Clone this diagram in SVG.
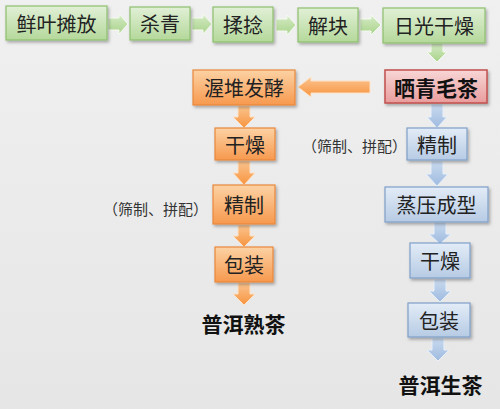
<svg xmlns="http://www.w3.org/2000/svg" width="500" height="409" viewBox="0 0 500 409">
<defs>
<linearGradient id="bg" x1="0" y1="0" x2="0" y2="1"><stop offset="0" stop-color="#f0f0f0"/><stop offset="1" stop-color="#e6e6e6"/></linearGradient>
<linearGradient id="gG" x1="0" y1="0" x2="0" y2="1"><stop offset="0" stop-color="#e1f0d6"/><stop offset="1" stop-color="#b4d89a"/></linearGradient>
<linearGradient id="gO" x1="0" y1="0" x2="0" y2="1"><stop offset="0" stop-color="#fcd2a4"/><stop offset="1" stop-color="#f7994e"/></linearGradient>
<linearGradient id="gB" x1="0" y1="0" x2="0" y2="1"><stop offset="0" stop-color="#e3ecf7"/><stop offset="1" stop-color="#b6cbe4"/></linearGradient>
<linearGradient id="gR" x1="0" y1="0" x2="0" y2="1"><stop offset="0" stop-color="#f8d6d6"/><stop offset="1" stop-color="#e99c9c"/></linearGradient>
<linearGradient id="aG" x1="0" y1="0" x2="0" y2="1"><stop offset="0" stop-color="#d5ebc5"/><stop offset="1" stop-color="#a9d38b"/></linearGradient>
<linearGradient id="aO" x1="0" y1="0" x2="0" y2="1"><stop offset="0" stop-color="#fbc48f"/><stop offset="1" stop-color="#f7943f"/></linearGradient>
<linearGradient id="aB" x1="0" y1="0" x2="0" y2="1"><stop offset="0" stop-color="#c9daee"/><stop offset="1" stop-color="#9fbbe0"/></linearGradient>
<filter id="sh" x="-10%" y="-20%" width="125%" height="150%"><feDropShadow dx="1.5" dy="2" stdDeviation="1.5" flood-color="#000" flood-opacity="0.3"/></filter>
</defs>
<style>
.t{font-family:"Noto Sans CJK SC","Noto Sans",sans-serif;font-size:20px;fill:#222;text-anchor:middle;dominant-baseline:central}
.b{font-weight:bold;font-size:21px;fill:#111}
.n{font-size:15px;text-anchor:start;fill:#333}
.g{fill:url(#gG);stroke:#8ebf6e;stroke-width:1.2;filter:url(#sh)}
.o{fill:url(#gO);stroke:#e8883c;stroke-width:1.2;filter:url(#sh)}
.bl{fill:url(#gB);stroke:#7f9fc8;stroke-width:1.2;filter:url(#sh)}
.r{fill:url(#gR);stroke:#c0504d;stroke-width:1.5;filter:url(#sh)}
.ag{fill:url(#aG);stroke:#f4faf0;stroke-width:1}
.ao{fill:url(#aO);stroke:#fde3c8;stroke-width:1}
.ab{fill:url(#aB);stroke:#e8f0fa;stroke-width:1}
</style>
<rect width="500" height="409" fill="url(#bg)"/>

<g id="connectors">
<path class="ag" d="M108,18 H119 V14 L128,24 L119,34 V30 H108 Z"/>
<path class="ag" d="M192,18 H203 V14 L212,24 L203,34 V30 H192 Z"/>
<path class="ag" d="M276,19 H287 V15 L296,25 L287,35 V31 H276 Z"/>
<path class="ag" d="M360,19 H371 V15 L381,25 L371,35 V31 H360 Z"/>
<path class="ag" d="M431,43 V52 H427 L437,62 L447,52 H443 V43 Z"/>
<path class="ao" d="M370,81 H311 V77 L298,87 L311,97 V93 H370 Z"/>
<path class="ab" d="M431,104 V117 H427 L437,128 L447,117 H443 V104 Z"/>
<path class="ab" d="M431,161 V174 H426 L437,186 L448,174 H443 V161 Z"/>
<path class="ab" d="M434,222 V234 H429 L440,244 L451,234 H446 V222 Z"/>
<path class="ab" d="M434,279 V291 H429 L440,302 L451,291 H446 V279 Z"/>
<path class="ab" d="M432,338 V350 H427 L438,361 L449,350 H444 V338 Z"/>
<path class="ao" d="M238,106 V117 H233 L244,128 L255,117 H250 V106 Z"/>
<path class="ao" d="M238,161 V173 H233 L244,185 L255,173 H250 V161 Z"/>
<path class="ao" d="M238,225 V236 H233 L244,247 L255,236 H250 V225 Z"/>
<path class="ao" d="M238,283 V294 H233 L244,305 L255,294 H250 V283 Z"/>
</g>

<g id="n1"><rect class="g" x="6" y="6" width="101" height="34"/><text class="t" x="56.5" y="23">鲜叶摊放</text></g>
<g id="n2"><rect class="g" x="130" y="7" width="60" height="33"/><text class="t" x="160" y="23.5">杀青</text></g>
<g id="n3"><rect class="g" x="213" y="7" width="60" height="35"/><text class="t" x="243" y="24.5">揉捻</text></g>
<g id="n4"><rect class="g" x="298" y="8" width="60" height="34"/><text class="t" x="328" y="25">解块</text></g>
<g id="n5"><rect class="g" x="383" y="8" width="102" height="35"/><text class="t" x="434" y="25.5">日光干燥</text></g>

<g id="n6"><rect class="r" x="385" y="70" width="102" height="33"/><text class="t b" x="436" y="86.5">晒青毛茶</text></g>
<g id="n7"><rect class="o" x="193" y="70" width="102" height="35"/><text class="t" x="244" y="87.5">渥堆发酵</text></g>

<g id="n8"><rect class="o" x="215" y="128" width="60" height="32"/><text class="t" x="245" y="144">干燥</text></g>
<g id="n9"><rect class="bl" x="407" y="128" width="60" height="32"/><text class="t" x="437" y="144">精制</text></g>
<text class="t n" x="302" y="145">（筛制、拼配）</text>

<g id="n10"><rect class="o" x="213" y="185" width="62" height="39"/><text class="t" x="244" y="204.5">精制</text></g>
<text class="t n" x="103" y="208">（筛制、拼配）</text>
<g id="n11"><rect class="bl" x="385" y="187" width="103" height="35"/><text class="t" x="436.5" y="204.5">蒸压成型</text></g>

<g id="n12"><rect class="o" x="215" y="247" width="58" height="35"/><text class="t" x="244" y="264.5">包装</text></g>
<g id="n13"><rect class="bl" x="410" y="243" width="60" height="35"/><text class="t" x="440" y="260.5">干燥</text></g>
<g id="n14"><rect class="bl" x="408" y="303" width="62" height="34"/><text class="t" x="439" y="320">包装</text></g>

<g id="n15"><text class="t b" x="243.5" y="323">普洱熟茶</text></g>
<g id="n16"><text class="t b" x="440.5" y="384">普洱生茶</text></g>
</svg>
